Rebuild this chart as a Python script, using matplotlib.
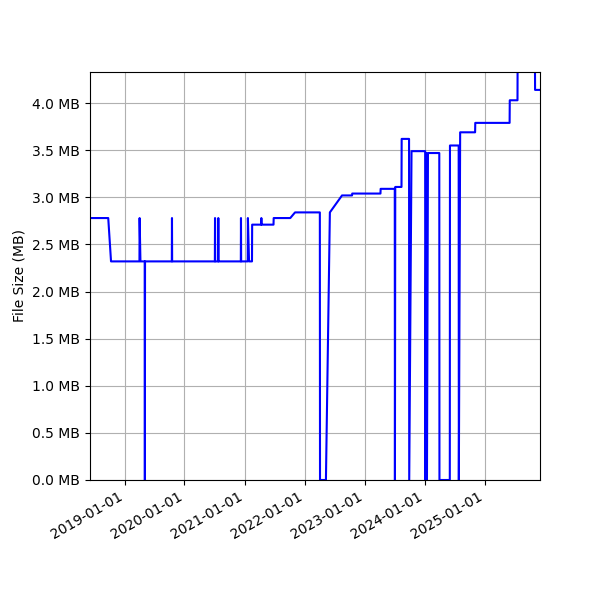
import matplotlib
matplotlib.use("Agg")
import matplotlib.pyplot as plt
import matplotlib.dates as mdates
from matplotlib.ticker import FuncFormatter, MultipleLocator
import pandas as pd

dates = [
    "2018-06-05", "2018-09-24", "2018-10-11",
    "2019-04-02", "2019-04-03", "2019-04-08",
    "2019-05-04", "2019-05-05", "2019-05-06",
    "2019-10-16", "2019-10-17", "2019-10-18",
    "2020-07-04", "2020-07-05", "2020-07-06",
    "2020-07-24", "2020-07-25", "2020-07-26",
    "2020-12-09", "2020-12-10", "2020-12-11",
    "2021-01-20", "2021-01-21", "2021-01-28",
    "2021-02-15", "2021-02-16",
    "2021-04-12", "2021-04-13", "2021-04-14",
    "2021-06-26", "2021-06-27",
    "2021-10-06", "2021-11-04",
    "2022-04-04", "2022-04-05",
    "2022-05-11", "2022-06-04",
    "2022-08-17",
    "2022-10-17", "2022-10-18",
    "2023-04-08", "2023-04-09",
    "2023-07-04", "2023-07-05", "2023-07-07",
    "2023-08-14", "2023-08-15",
    "2023-09-29", "2023-09-30", "2023-10-14",
    "2024-01-05", "2024-01-06", "2024-01-12", "2024-01-16", "2024-01-22",
    "2024-03-31", "2024-04-01",
    "2024-06-03", "2024-06-04",
    "2024-07-27", "2024-07-28", "2024-08-05",
    "2024-11-04", "2024-11-05",
    "2025-06-02", "2025-06-03",
    "2025-07-20", "2025-07-21",
    "2025-11-03", "2025-11-04",
    "2025-12-04",
]
sizes_mb = [
    2.78, 2.78, 2.32,
    2.32, 2.78, 2.32,
    2.32, 0.0, 2.32,
    2.32, 2.78, 2.32,
    2.32, 2.78, 2.32,
    2.32, 2.78, 2.32,
    2.32, 2.78, 2.32,
    2.32, 2.78, 2.32,
    2.32, 2.71,
    2.71, 2.78, 2.71,
    2.71, 2.78,
    2.78, 2.84,
    2.84, 0.0,
    0.0, 2.84,
    3.02,
    3.02, 3.04,
    3.04, 3.09,
    3.09, 0.0, 3.11,
    3.11, 3.62,
    3.62, 0.0, 3.49,
    3.49, 0.0, 3.47, 0.0, 3.47,
    3.47, 0.0,
    0.0, 3.55,
    3.55, 0.0, 3.69,
    3.69, 3.79,
    3.79, 4.03,
    4.03, 4.60,
    4.60, 4.14,
    4.14,
]

x = pd.to_datetime(dates)

fig, ax = plt.subplots(figsize=(6, 6), dpi=100)
ax.plot(x, sizes_mb, color="blue", linewidth=1.5)
ax.set_xlim(x[0], x[-1])
ax.set_ylim(0, 4.33)
ax.yaxis.set_major_locator(MultipleLocator(0.5))
ax.yaxis.set_major_formatter(FuncFormatter(lambda v, p: f"{v:.1f} MB"))
ax.xaxis.set_major_locator(mdates.YearLocator())
ax.xaxis.set_major_formatter(mdates.DateFormatter("%Y-%m-%d"))
ax.set_ylabel("File Size (MB)")
ax.grid(True)
fig.autofmt_xdate()
fig.subplots_adjust(left=0.15, right=0.9, top=0.88, bottom=0.2)
fig.savefig("out.png", dpi=100)
